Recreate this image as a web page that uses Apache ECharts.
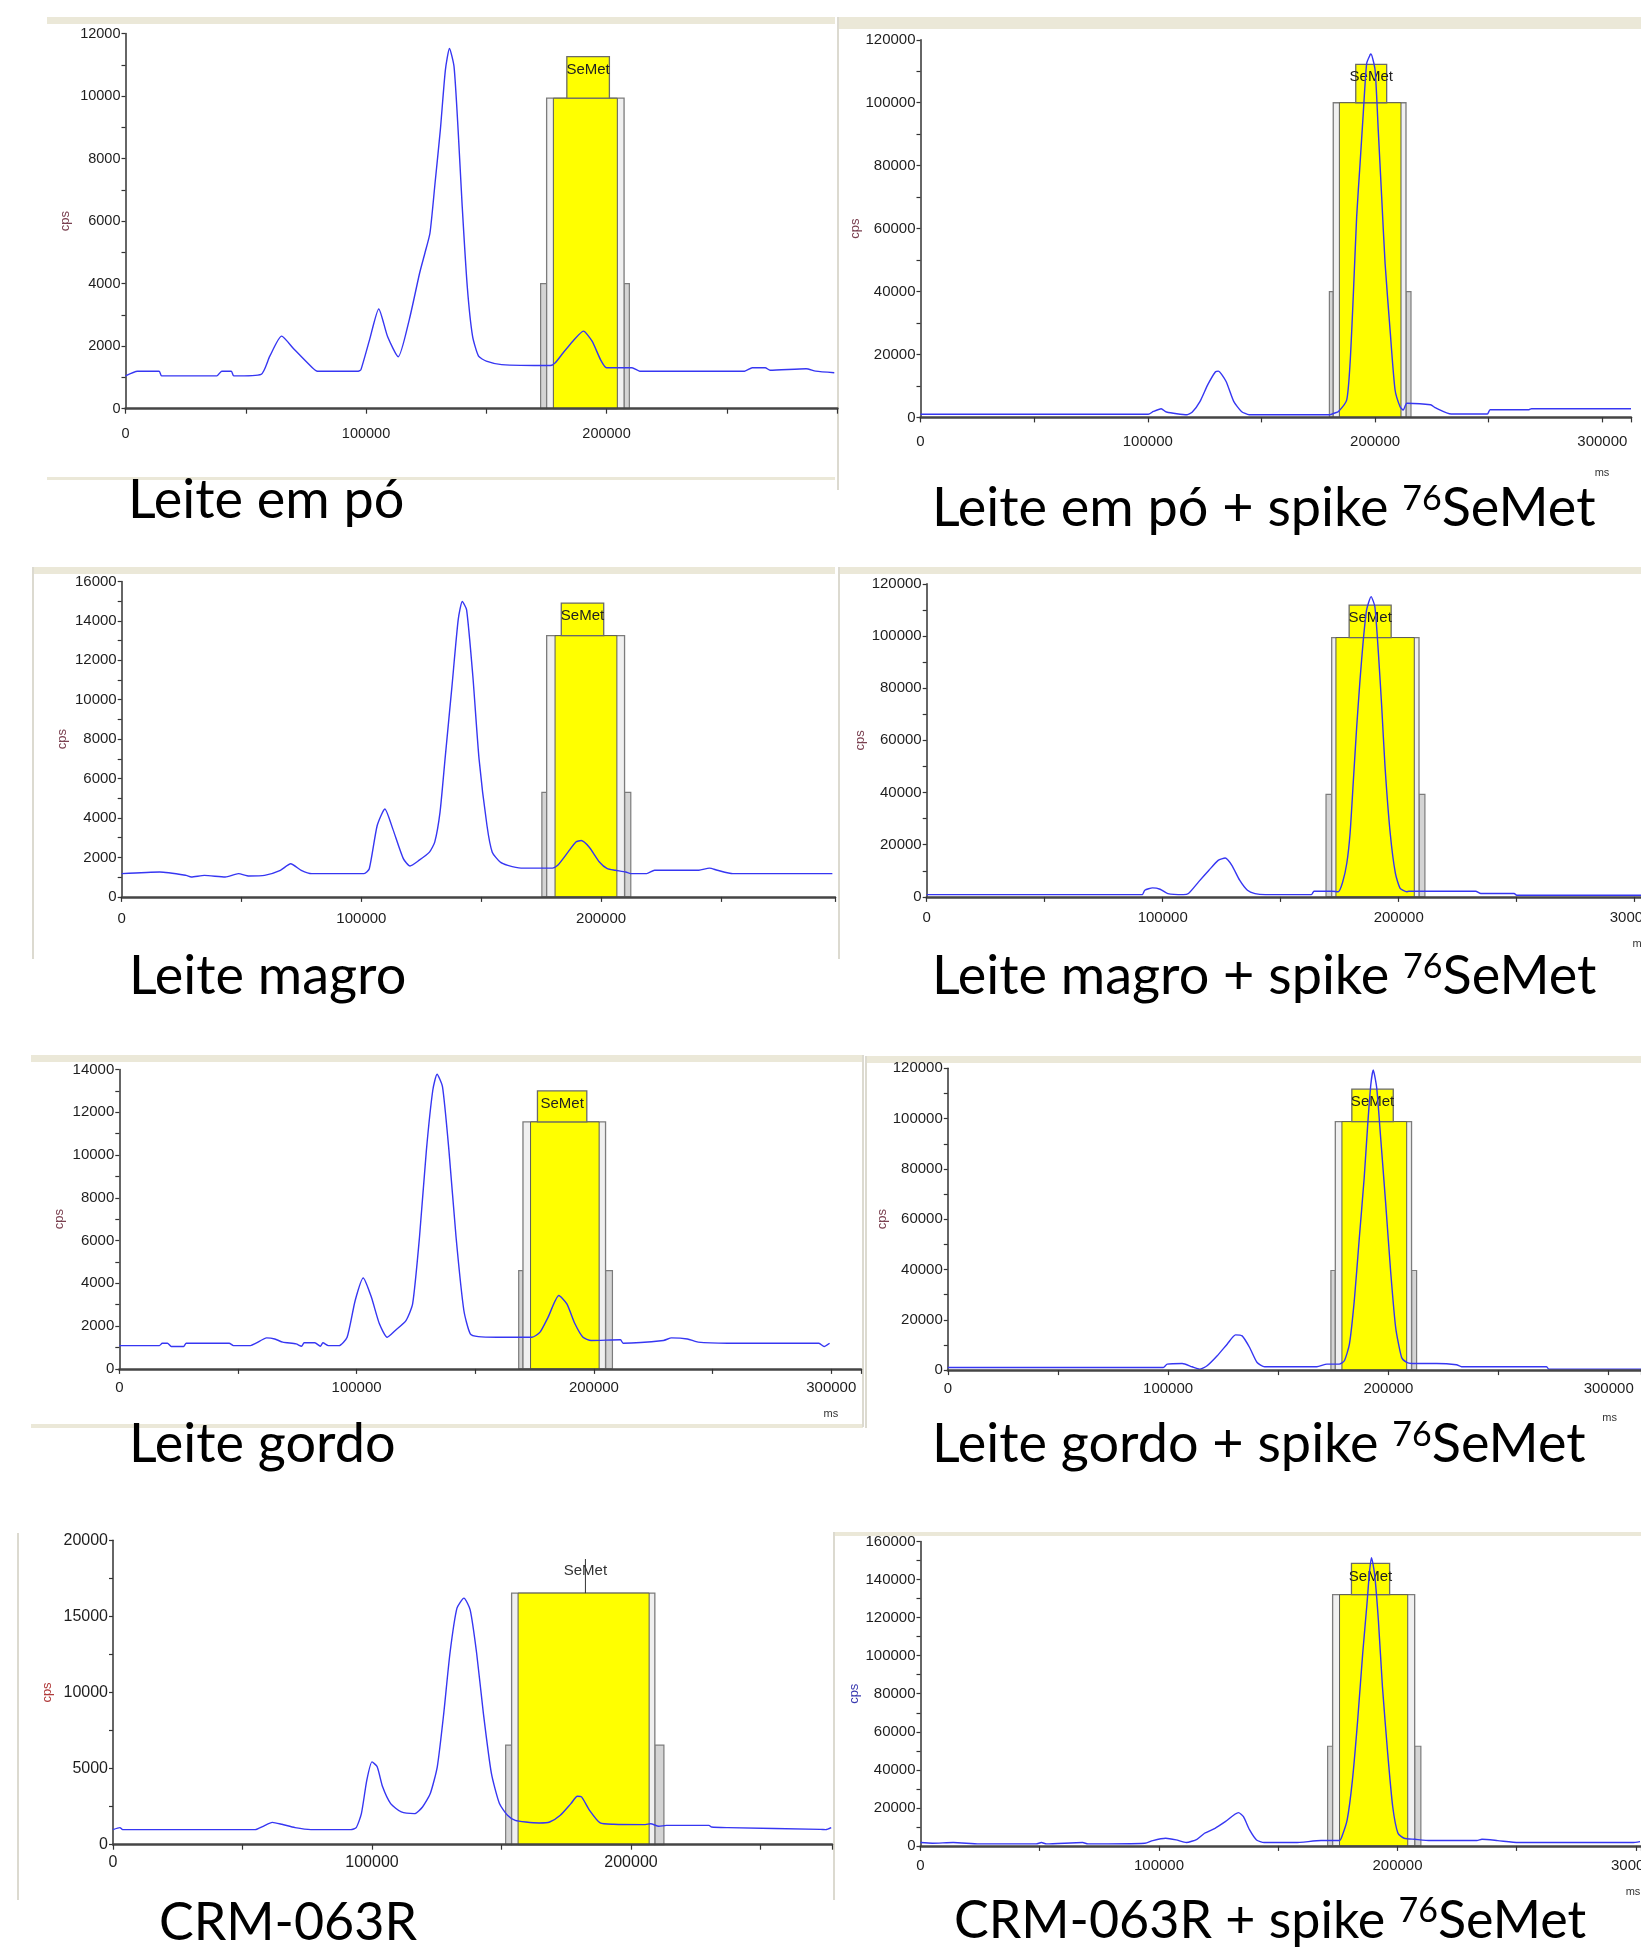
<!DOCTYPE html>
<html>
<head>
<meta charset="utf-8">
<script src="https://cdn.jsdelivr.net/npm/echarts@6/dist/echarts.min.js"></script>
<style>
html, body { margin: 0; padding: 0; background: #fff; }
#main { width: 1641px; height: 1948px; }
</style>
</head>
<body>
<div id="main"></div>
<script>
// ---- chromatogram traces (ms, cps) ----
var timeP1 = [0, 5000, 14000, 15000, 38000, 40000, 44000, 45000, 56400, 60000, 64900, 70000, 77700, 79800, 96800, 97900, 101500, 105300, 109000, 113400, 118000, 122300, 124500, 126600, 128700, 130900, 133000, 134700, 136600, 138300, 140000, 142100, 144300, 146800, 150000, 156400, 176600, 178700, 182000, 186000, 190400, 194000, 197500, 200000, 210600, 213800, 257400, 260600, 266000, 268000, 283000, 287000, 294700];
var cpsP1 = [1050, 1200, 1200, 1050, 1050, 1200, 1200, 1050, 1100, 1680, 2320, 1910, 1310, 1200, 1200, 1250, 2210, 3190, 2300, 1660, 2850, 4340, 4980, 5620, 7210, 8910, 10830, 11520, 10940, 8910, 6470, 3910, 2320, 1680, 1520, 1410, 1380, 1470, 1790, 2160, 2480, 2160, 1570, 1310, 1310, 1200, 1200, 1310, 1310, 1230, 1280, 1200, 1150];

var timeP2 = [0, 100200, 102500, 105900, 108200, 117300, 119600, 123000, 126400, 129800, 131000, 134400, 137800, 141200, 144600, 180000, 182200, 183800, 187500, 189000, 190400, 191900, 193400, 194800, 196300, 197800, 198200, 200000, 201400, 202900, 204400, 206600, 208800, 211000, 212400, 214000, 224400, 226700, 233500, 249400, 250600, 267700, 268800, 312600];
var cpsP2 = [1000, 1000, 1900, 2770, 1700, 850, 1700, 5100, 10400, 14500, 14700, 11500, 5100, 1900, 850, 850, 1400, 1800, 5500, 17200, 38400, 63800, 80700, 96600, 112500, 115200, 115500, 110400, 91300, 70100, 49000, 27800, 8700, 3400, 2350, 4500, 4000, 3000, 1060, 1060, 2450, 2450, 2770, 2770];

var timeP3 = [0, 15900, 26900, 29000, 34500, 43200, 48700, 53100, 59600, 66200, 70500, 74900, 79300, 101100, 103300, 106600, 109800, 113100, 117500, 120300, 124000, 128400, 130600, 132800, 134900, 137800, 140400, 142100, 143900, 146500, 149100, 152400, 154600, 157900, 161100, 166600, 179700, 181900, 186200, 189500, 191700, 195000, 199300, 202600, 205900, 210300, 212400, 219000, 222300, 240800, 245200, 248500, 255000, 296500];
var cpsP3 = [1180, 1260, 1090, 1010, 1090, 1010, 1180, 1060, 1090, 1350, 1680, 1350, 1180, 1180, 1430, 3620, 4460, 3450, 1940, 1570, 1850, 2270, 2780, 4290, 6990, 10690, 14060, 14980, 14560, 11200, 6990, 3620, 2270, 1770, 1600, 1460, 1460, 1600, 2270, 2780, 2860, 2530, 1770, 1430, 1350, 1260, 1180, 1180, 1350, 1350, 1460, 1350, 1180, 1180];

var timeP4 = [0, 91300, 92400, 95700, 98900, 102200, 108700, 110900, 115200, 119600, 123500, 126500, 129300, 132600, 135900, 139100, 143500, 163000, 164100, 171700, 174400, 176200, 178000, 179400, 180800, 182200, 183600, 185000, 186400, 188300, 189900, 191400, 192800, 194200, 196400, 198600, 200600, 203400, 204300, 232600, 234800, 248900, 250000, 303000];
var cpsP4 = [890, 890, 2550, 3450, 2940, 1280, 890, 1280, 5750, 10200, 14000, 14900, 12100, 6400, 2550, 1280, 890, 890, 2170, 2170, 2000, 5500, 12900, 24400, 44800, 65200, 83100, 98500, 110000, 115100, 111200, 93400, 72900, 49900, 24400, 9000, 3300, 2000, 2170, 2170, 1280, 1280, 640, 640];

var timeP5 = [0, 16900, 18100, 20300, 21900, 27100, 28200, 46300, 48100, 55300, 57600, 62100, 65500, 68900, 74500, 76800, 77900, 82400, 84700, 85800, 88100, 92600, 96000, 99400, 102800, 106200, 109600, 112900, 116300, 120800, 123600, 126500, 129400, 132100, 133900, 136200, 138900, 141900, 145200, 147900, 151300, 159200, 173900, 177300, 180700, 185200, 188600, 192000, 195400, 198800, 211200, 212300, 229300, 232700, 239400, 243900, 256400, 294800, 297000, 299300];
var cpsP5 = [1090, 1090, 1200, 1200, 1050, 1050, 1200, 1200, 1090, 1090, 1200, 1450, 1400, 1250, 1170, 1060, 1220, 1220, 1060, 1220, 1090, 1090, 1480, 3200, 4250, 3360, 2110, 1480, 1800, 2260, 3040, 6170, 10220, 13030, 13780, 13190, 10220, 6170, 2730, 1640, 1510, 1480, 1480, 1720, 2420, 3430, 3040, 2110, 1480, 1330, 1360, 1200, 1330, 1450, 1400, 1250, 1200, 1200, 1050, 1200];

var timeP6 = [0, 97800, 99600, 106400, 110900, 114300, 117700, 122300, 126800, 130600, 133600, 137000, 140400, 143800, 167500, 172100, 177700, 180000, 182300, 184500, 186800, 189000, 190600, 192000, 193100, 194700, 196500, 198800, 201000, 203300, 206000, 208300, 210500, 221900, 230900, 233200, 271700, 272800, 314700];
var cpsP6 = [1060, 1060, 2380, 2640, 1320, 400, 1720, 5680, 10300, 14000, 13600, 8990, 3040, 1320, 1320, 2380, 2380, 3700, 10300, 27500, 52600, 76400, 97500, 113400, 119300, 112100, 92200, 65800, 39400, 16900, 5000, 3040, 2640, 2640, 2110, 1320, 1320, 400, 400];

var timeP7 = [0, 2700, 3700, 54900, 58000, 61500, 65200, 70300, 76400, 91800, 93900, 95900, 98000, 100000, 102000, 104100, 107200, 111300, 116400, 119500, 122500, 125200, 127700, 130100, 132800, 135500, 137900, 140400, 143000, 146100, 149200, 152300, 155300, 159400, 164500, 168600, 172700, 176800, 179300, 180900, 184000, 188100, 193200, 205500, 207600, 210700, 213700, 230100, 231100, 237300, 273200, 275200, 277300];
var cpsP7 = [990, 1120, 990, 990, 1210, 1470, 1340, 1120, 990, 990, 1120, 2040, 4240, 5440, 5120, 3800, 2700, 2150, 2040, 2480, 3360, 5120, 8630, 12580, 15540, 16200, 15430, 12580, 8630, 4680, 2700, 1930, 1600, 1490, 1430, 1490, 1930, 2700, 3180, 3140, 2260, 1430, 1340, 1320, 1380, 1210, 1270, 1270, 1160, 1120, 1010, 990, 1120];

var timeP8 = [0, 5000, 13700, 24600, 48500, 50700, 52800, 68000, 70200, 94100, 97400, 102800, 107200, 111500, 115900, 119100, 123500, 127800, 133300, 135400, 138000, 140900, 144100, 157200, 168000, 175700, 176700, 178900, 181100, 183300, 185400, 187200, 188300, 189100, 190400, 192000, 193700, 195900, 198000, 200200, 202800, 207200, 213700, 233300, 235400, 242000, 250700, 298500, 301700];
var cpsP8 = [1750, 1400, 1750, 1050, 1050, 1750, 1050, 1750, 1050, 1400, 2800, 4020, 3140, 1750, 3490, 6640, 9260, 12750, 17470, 15370, 8380, 3140, 1750, 1750, 2800, 2800, 4890, 13620, 34590, 66030, 101000, 127200, 144600, 151600, 142900, 118400, 83500, 48600, 20600, 6640, 4020, 3490, 2800, 2800, 3490, 2800, 1750, 1750, 2270];

// SeMet window: shortL, frameL, yellowL, yellowR, frameR, shortR, shortTop, frameTop, labelL, labelR, labelTop
var winP1 = [172600, 175100, 177900, 204500, 207300, 209500, 4000, 9930, 183500, 201200, 11260];
var winP2 = [179900, 181600, 184300, 211400, 213600, 215800, 40000, 100000, 191500, 205100, 112200];
var winP3 = [175300, 177300, 180800, 206600, 209800, 212400, 5300, 13250, 183400, 201100, 14900];
var winP4 = [169200, 171600, 173400, 206600, 208600, 211100, 39300, 99400, 179000, 196800, 111800];
var winP5 = [168300, 170100, 173300, 202200, 204900, 207800, 4600, 11550, 176200, 197000, 13000];
var winP6 = [173900, 175900, 178900, 208300, 210500, 212800, 39600, 98800, 183400, 202200, 111700];
var winP7 = [151600, 153900, 156400, 207000, 209200, 212700, 6540, 16530, 182400, 182400, 18770];
var winP8 = [170700, 172800, 175700, 204300, 207200, 209800, 52400, 132100, 180700, 196700, 148500];

// axis tops
var yMaxes = [12000, 120000, 16000, 120000, 14000, 120000, 20000, 160000];
var yLabelSteps = [2000, 20000, 2000, 20000, 2000, 20000, 5000, 20000];
var yTickSteps = [1000, 10000, 1000, 10000, 1000, 10000, 2500, 10000];

var captions = ['Leite em pó', 'Leite em pó + spike ', 'Leite magro', 'Leite magro + spike ', 'Leite gordo', 'Leite gordo + spike ', 'CRM-063R', 'CRM-063R + spike '];
var isotope = '76';
var compound = 'SeMet';

var narrow = "'Liberation Sans Narrow','Liberation Sans',Arial,sans-serif";
var arial = "'Liberation Sans',Arial,sans-serif";

var panels = [
  { time: timeP1, cps: cpsP1, win: winP1, xMax: 296000, box: { left: 125.5, top: 33.5, width: 711.9, height: 375.2 }, font: narrow, fs: 14.5, xm: 18, cpsGap: 54, ms: null, cap: [128, 501] },
  { time: timeP2, cps: cpsP2, win: winP2, xMax: 312600, box: { left: 920.5, top: 39.8, width: 710.5, height: 377.6 }, font: narrow, fs: 15, xm: 17, cpsGap: 59, ms: [-29, 50], cap: [932, 509] },
  { time: timeP3, cps: cpsP3, win: winP3, xMax: 297600, box: { left: 121.7, top: 581.4, width: 713.3, height: 315.5 }, font: narrow, fs: 15, xm: 14.5, cpsGap: 53, ms: null, cap: [129, 977] },
  { time: timeP4, cps: cpsP4, win: winP4, xMax: 303000, box: { left: 926.7, top: 583.8, width: 715.1, height: 313.1 }, font: narrow, fs: 15, xm: 13.5, cpsGap: 60, ms: [-2, 42], cap: [932, 977] },
  { time: timeP5, cps: cpsP5, win: winP5, xMax: 312500, box: { left: 119.3, top: 1069.5, width: 741.6, height: 299.4 }, font: narrow, fs: 15, xm: 11, cpsGap: 53, ms: [-30, 40], cap: [129, 1445] },
  { time: timeP6, cps: cpsP6, win: winP6, xMax: 314700, box: { left: 947.8, top: 1068.3, width: 693.3, height: 301.8 }, font: narrow, fs: 15, xm: 11, cpsGap: 56, ms: [-31.5, 42], cap: [932, 1445] },
  { time: timeP7, cps: cpsP7, win: winP7, xMax: 277600, box: { left: 113, top: 1540.3, width: 719.0, height: 304.4 }, font: arial, fs: 16, xm: 10, cpsGap: 59, ms: null, cap: [159, 1923], capSize: 52, cpsColor: '#b03a3a' },
  { time: timeP8, cps: cpsP8, win: winP8, xMax: 302100, box: { left: 920.5, top: 1541.6, width: 720.5, height: 304.3 }, font: arial, fs: 15, xm: 12, cpsGap: 60, ms: [-8, 41], cap: [954, 1921], capSize: 52, cpsColor: '#3a3ab0' }
];

function pairs(xs, ys) {
  var out = [];
  for (var i = 0; i < xs.length; i++) out.push([xs[i], ys[i]]);
  return out;
}

// draws the integration window (grey bars, frame, yellow area, SeMet tag)
function makeWindow(font, fs) {
  return function (params, api) {
    var v = [];
    for (var i = 0; i < 11; i++) v.push(api.value(i));
    function box(x0, x1, y0, y1, style) {
      var a = api.coord([x0, y1]), b = api.coord([x1, y0]);
      return { type: 'rect', shape: { x: a[0], y: a[1], width: b[0] - a[0], height: b[1] - a[1] }, style: style };
    }
    var grey = { fill: '#d4d4d4', stroke: '#7c7c7c', lineWidth: 1.2 };
    var kids = [
      box(v[0], v[1], 0, v[6], grey),
      box(v[4], v[5], 0, v[6], grey),
      box(v[1], v[4], 0, v[7], { fill: '#f0f0f0', stroke: '#7c7c7c', lineWidth: 1.3 }),
      box(v[2], v[3], 0, v[7], { fill: '#ffff00', stroke: '#5a5a5a', lineWidth: 1 })
    ];
    var top = api.coord([v[8], v[10]]);
    var mid = api.coord([(v[8] + v[9]) / 2, v[10]]);
    if (v[9] > v[8]) {
      kids.push(box(v[8], v[9], v[7], v[10], { fill: '#ffff00', stroke: '#6a6a6a', lineWidth: 1.3 }));
      kids.push({ type: 'text', style: { text: compound, x: mid[0], y: mid[1] + 13, align: 'center', verticalAlign: 'middle', fontFamily: font, fontSize: fs, fill: '#222' } });
    } else {
      var base = api.coord([v[8], v[7]]);
      kids.push({ type: 'line', shape: { x1: base[0], y1: base[1], x2: top[0], y2: top[1] }, style: { stroke: '#333', lineWidth: 1 } });
      kids.push({ type: 'text', style: { text: compound, x: top[0], y: top[1] + 12, align: 'center', verticalAlign: 'middle', fontFamily: font, fontSize: fs, fill: '#333' } });
    }
    return { type: 'group', children: kids };
  };
}

var grids = [], xAxes = [], yAxes = [], series = [], graphics = [];

panels.forEach(function (p, i) {
  var g = { outerBoundsMode: 'none', containLabel: false };
  for (var k in p.box) g[k] = p.box[k];
  grids.push(g);
  xAxes.push({
    type: 'value', gridIndex: i, min: 0, max: p.xMax, interval: 50000, z: 5,
    axisLine: { show: true, onZero: false, lineStyle: { color: '#454545', width: 2.5 } },
    axisTick: { show: true, length: 5, lineStyle: { color: '#333', width: 1.2 } },
    splitLine: { show: false },
    axisLabel: {
      margin: p.xm, color: '#1e1e1e', fontFamily: p.font, fontSize: p.fs, showMaxLabel: true,
      formatter: function (v) { return v % 100000 === 0 ? String(v) : ''; }
    },
    name: p.ms ? 'ms' : '', nameLocation: 'end', nameGap: p.ms ? p.ms[0] : 0,
    nameTextStyle: { align: 'center', verticalAlign: 'top', padding: [p.ms ? p.ms[1] : 0, 0, 0, 0], fontFamily: p.font, fontSize: 11, color: '#333' }
  });
  yAxes.push({
    type: 'value', gridIndex: i, min: 0, max: yMaxes[i], interval: yTickSteps[i],
    axisLine: { show: true, onZero: false, lineStyle: { color: '#333', width: 1.5 } },
    axisTick: { show: true, length: 4, lineStyle: { color: '#333', width: 1.2 } },
    splitLine: { show: false },
    axisLabel: {
      margin: 5, color: '#1e1e1e', fontFamily: p.font, fontSize: p.fs,
      formatter: (function (step) { return function (v) { return v % step === 0 ? String(v) : ''; }; })(yLabelSteps[i])
    },
    name: 'cps', nameLocation: 'middle', nameRotate: 90, nameGap: p.cpsGap,
    nameTextStyle: { fontFamily: p.font, fontSize: 13, color: p.cpsColor || '#7a4050' }
  });
  series.push({
    type: 'custom', xAxisIndex: i, yAxisIndex: i, z: 1, silent: true,
    renderItem: makeWindow(p.font, 15), data: [p.win]
  });
  series.push({
    type: 'line', xAxisIndex: i, yAxisIndex: i, z: 3, silent: true,
    data: pairs(p.time, p.cps), showSymbol: false, smooth: 0.2,
    lineStyle: { color: '#3636f2', width: 1.4 }
  });
  var size = p.capSize || 54;
  var txt = i % 2 === 0 ? '{m|' + captions[i] + '}' : '{m|' + captions[i] + '}{sup|' + isotope + '}{m|' + compound + '}';
  graphics.push({
    type: 'text', x: p.cap[0], y: p.cap[1], z: 10,
    style: {
      text: txt, align: 'left', verticalAlign: 'middle',
      rich: {
        m: { fontFamily: 'Lato', fontSize: size, lineHeight: 66, fill: '#000' },
        sup: { fontFamily: 'Lato', fontSize: 34, lineHeight: 34, verticalAlign: 'top', padding: [6, 0, 0, 0], fill: '#000' }
      }
    }
  });
});

// panel frames (beige bands and borders of the pasted screenshots)
var bands = [
  [47, 17, 788, 7], [838, 17, 803, 12], [34, 567, 801, 7], [840, 567, 801, 7],
  [31, 1055, 832, 7], [866, 1056, 775, 7], [835, 1532, 806, 4], [31, 1424, 832, 4], [47, 477, 788, 3]
];
var borders = [
  [837, 17, 2, 473], [32, 567, 2, 392], [838, 567, 2, 392], [862, 1055, 2, 372],
  [865, 1056, 2, 372], [17, 1533, 2, 367], [833, 1532, 2, 368]
];
bands.forEach(function (b) {
  graphics.push({ type: 'rect', z: -1, shape: { x: b[0], y: b[1], width: b[2], height: b[3] }, style: { fill: '#ebe8d8' } });
});
borders.forEach(function (b) {
  graphics.push({ type: 'rect', z: -1, shape: { x: b[0], y: b[1], width: b[2], height: b[3] }, style: { fill: '#dcdad0' } });
});

var myChart = echarts.init(document.getElementById('main'));
myChart.setOption({
  animation: false,
  backgroundColor: '#ffffff',
  grid: grids,
  xAxis: xAxes,
  yAxis: yAxes,
  series: series,
  graphic: { elements: graphics }
});
</script>
</body>
</html>
